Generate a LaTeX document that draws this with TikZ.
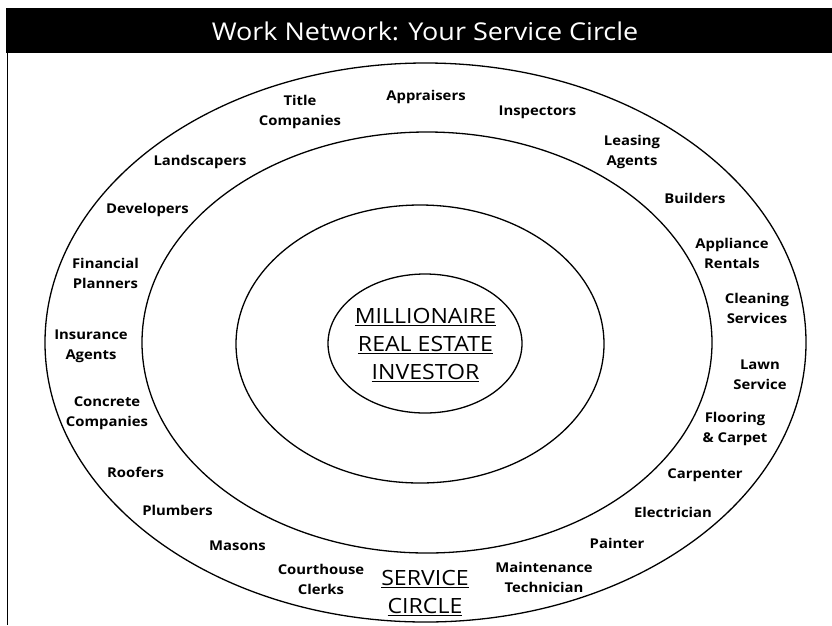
\documentclass[tikz,border=0pt]{standalone}
\usepackage{fontspec}
\setmainfont{Open Sans}[FakeStretch=1.1]
\usetikzlibrary{shapes.geometric}
\tikzset{
  ring/.style={draw, ellipse, line width=1.3pt, inner sep=0pt},
  lbl/.style={font=\bfseries\fontsize{13.5}{20}\selectfont, align=center, inner sep=0pt},
  core/.style={font=\fontsize{21}{28}\selectfont, align=center, inner sep=0pt}
}
\newcommand{\ul}[1]{\underline{#1}}
\begin{document}
\begin{tikzpicture}[x=1pt,y=-1pt]
\useasboundingbox (0,0) rectangle (832,625);
% title bar
\fill[black] (6,8) rectangle (832,53);
\node[text=white, font=\fontsize{24.5}{26}\selectfont, inner sep=0pt] (title) at (425,31) {Work Network: Your Service Circle};
\draw[line width=1.4pt] (7.5,53) -- (7.5,625);
% rings
\node[ring, minimum width=761pt, minimum height=559pt] (outer) at (425.5,342.5) {};
\node[ring, minimum width=570pt, minimum height=421pt] (middle) at (427,342.5) {};
\node[ring, minimum width=368pt, minimum height=278pt] (inner) at (420,344) {};
\node[ring, minimum width=194pt, minimum height=139pt] (core) at (425,343.5) {};
% centre text
\node[core] (investor) at (425.5,345) {\ul{MILLIONAIRE}\\\ul{REAL ESTATE}\\\ul{INVESTOR}};
\node[core] (service) at (425,593) {\ul{SERVICE}\\\ul{CIRCLE}};
% labels
\node[lbl] (titleco) at (300,112) {Title\\Companies};
\node[lbl] (apprais) at (426,97) {Appraisers};
\node[lbl] (inspect) at (537.5,112) {Inspectors};
\node[lbl] (leasing) at (632,152) {Leasing\\Agents};
\node[lbl] (builders) at (695,198) {Builders};
\node[lbl] (appliance) at (732,253) {Appliance\\Rentals};
\node[lbl] (cleaning) at (757,308.5) {Cleaning\\Services};
\node[lbl] (lawn) at (760,375) {Lawn\\Service};
\node[lbl] (flooring) at (735,429) {Flooring\\\&~Carpet};
\node[lbl] (carpenter) at (705,475) {Carpenter};
\node[lbl] (electric) at (673,512) {Electrician};
\node[lbl] (painter) at (617,543) {Painter};
\node[lbl] (maint) at (544,577) {Maintenance\\Technician};
\node[lbl] (courthouse) at (321,579) {Courthouse\\Clerks};
\node[lbl] (masons) at (237.5,546) {Masons};
\node[lbl] (plumbers) at (177.5,510) {Plumbers};
\node[lbl] (roofers) at (135.5,472) {Roofers};
\node[lbl] (concrete) at (107,413) {Concrete\\Companies};
\node[lbl] (insurance) at (91,346) {Insurance\\Agents};
\node[lbl] (financial) at (105.5,273) {Financial\\Planners};
\node[lbl] (developers) at (147.5,210) {Developers};
\node[lbl] (landscap) at (200,162) {Landscapers};
\end{tikzpicture}
\end{document}
